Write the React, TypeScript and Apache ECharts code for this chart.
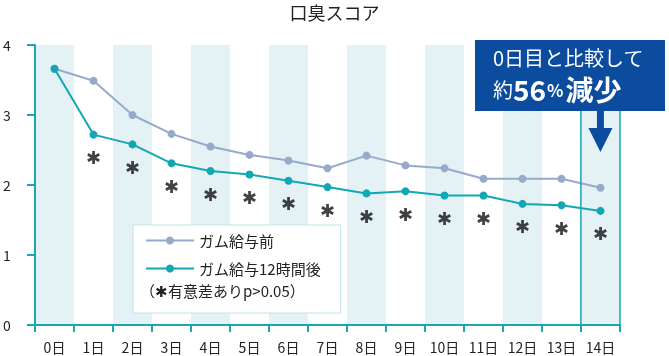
import React, { useEffect, useRef } from "react";
import * as echarts from "echarts";

const days = ["0日", "1日", "2日", "3日", "4日", "5日", "6日", "7日", "8日", "9日", "10日", "11日", "12日", "13日", "14日"];
const beforeValues = [3.66, 3.49, 3.0, 2.73, 2.55, 2.43, 2.35, 2.24, 2.42, 2.28, 2.24, 2.09, 2.09, 2.09, 1.96];
const afterValues = [3.66, 2.72, 2.58, 2.31, 2.2, 2.15, 2.06, 1.97, 1.88, 1.91, 1.85, 1.85, 1.73, 1.71, 1.63];
const significant = [false, true, true, true, true, true, true, true, true, true, true, true, true, true, true];
const yTicks = [0, 1, 2, 3, 4];
const seriesNames = ["ガム給与前", "ガム給与12時間後"];
const titleText = "口臭スコア";
const noteText = "（✱有意差ありp>0.05）";
const calloutLine1 = "0日目と比較して";
const highlightDay = "14日";

const FONT = "'Noto Sans CJK JP', 'Noto Sans', sans-serif";
const GRAY = "#97aacb";
const TEAL = "#11a7b5";
const AXIS = "#1ba6b6";
const NAVY = "#0b4c9f";

const W = 669;
const H = 356;
const G_LEFT = 33;
const G_RIGHT = 49;
const G_TOP = 45;
const G_BOTTOM = 31;

export default function App() {
  const ref = useRef<HTMLDivElement>(null);
  useEffect(() => {
    if (!ref.current) return;
    const chart = echarts.init(ref.current, null, { renderer: "svg" });
    const plotW = W - G_LEFT - G_RIGHT;
    const plotH = H - G_TOP - G_BOTTOM;
    const bandW = plotW / days.length;
    const hiIdx = days.indexOf(highlightDay);
    const hiX = G_LEFT + bandW * hiIdx;
    const arrowX = hiX + bandW / 2;

    const sigData = afterValues.map((v, i) => (significant[i] ? [days[i], v] : [days[i], null]));

    chart.setOption({
      animation: false,
      textStyle: { fontFamily: FONT },
      title: {
        text: titleText,
        left: "center",
        top: 3,
        padding: 0,
        textStyle: { fontSize: 18, fontWeight: "normal", color: "#222", fontFamily: FONT },
      },
      legend: {
        data: seriesNames,
        orient: "vertical",
        left: 133,
        top: 225,
        padding: [8, 20, 37, 12],
        itemWidth: 48,
        itemHeight: 10,
        itemGap: 13,
        backgroundColor: "#ffffff",
        borderColor: "#c3e2e7",
        borderWidth: 1,
        textStyle: { fontSize: 15, color: "#222", fontFamily: FONT },
        z: 20,
      },
      grid: { left: G_LEFT, right: G_RIGHT, top: G_TOP, bottom: G_BOTTOM, containLabel: false },
      xAxis: {
        type: "category",
        data: days,
        boundaryGap: true,
        axisLine: { show: true, lineStyle: { color: AXIS, width: 2 } },
        axisTick: { show: true, length: 7, lineStyle: { color: AXIS, width: 2 } },
        axisLabel: { color: "#222", fontSize: 14, margin: 15, fontFamily: FONT, interval: 0 },
        splitArea: { show: true, areaStyle: { color: ["#e4f2f5", "rgba(255,255,255,0)"] } },
        splitLine: { show: false },
      },
      yAxis: {
        type: "value",
        min: yTicks[0],
        max: yTicks[yTicks.length - 1],
        interval: 1,
        axisLine: { show: true, lineStyle: { color: AXIS, width: 2 } },
        axisTick: { show: true, length: 8, lineStyle: { color: AXIS, width: 2 } },
        axisLabel: { color: "#222", fontSize: 14, align: "left", margin: 32, fontFamily: FONT },
        splitLine: { show: false },
      },
      series: [
        {
          name: seriesNames[0],
          type: "line",
          data: beforeValues,
          symbol: "circle",
          symbolSize: 8,
          lineStyle: { color: GRAY, width: 2 },
          itemStyle: { color: GRAY },
          z: 3,
        },
        {
          name: seriesNames[1],
          type: "line",
          data: afterValues,
          symbol: "circle",
          symbolSize: 8,
          lineStyle: { color: TEAL, width: 2 },
          itemStyle: { color: TEAL },
          z: 4,
        },
        {
          name: "sig",
          type: "scatter",
          data: sigData,
          symbol: "circle",
          symbolSize: 1,
          itemStyle: { color: "rgba(0,0,0,0)" },
          silent: true,
          label: {
            show: true,
            position: "inside",
            offset: [0, 23],
            formatter: "✱",
            fontSize: 18,
            color: "#111",
            fontFamily: "'DejaVu Sans', sans-serif",
          },
          z: 5,
        },
      ],
      graphic: [
        {
          type: "rect",
          shape: { x: hiX, y: G_TOP, width: bandW, height: plotH },
          style: { fill: "none", stroke: AXIS, lineWidth: 1.5 },
          z: 10,
          silent: true,
        },
        {
          type: "text",
          left: 140,
          top: 283,
          style: { text: noteText, fontSize: 15, fill: "#222", fontFamily: FONT },
          z: 30,
        },
        {
          type: "rect",
          shape: { x: 475, y: 40, width: 190, height: 71 },
          style: { fill: NAVY },
          z: 40,
        },
        {
          type: "text",
          x: 493,
          y: 57,
          style: {
            text: calloutLine1,
            fontSize: 20,
            fill: "#fff",
            fontFamily: FONT,
            verticalAlign: "middle",
          },
          z: 41,
        },
        {
          type: "text",
          x: 493,
          y: 89,
          style: {
            text: "{a|約}{b|56}{c|%}{b|減少}",
            fill: "#fff",
            verticalAlign: "middle",
            rich: {
              a: { fontSize: 20, fontFamily: FONT, color: "#fff", lineHeight: 24 },
              b: { fontSize: 28, fontWeight: "bold", fontFamily: FONT, color: "#fff", lineHeight: 24 },
              c: { fontSize: 17, fontWeight: "bold", fontFamily: FONT, color: "#fff", padding: [0, 2, 0, 1], lineHeight: 24 },
            },
          },
          z: 41,
        },
        {
          type: "rect",
          shape: { x: arrowX - 3.5, y: 110, width: 7, height: 20 },
          style: { fill: NAVY },
          z: 40,
        },
        {
          type: "polygon",
          shape: { points: [[arrowX - 12, 128], [arrowX + 12, 128], [arrowX, 152]] },
          style: { fill: NAVY },
          z: 40,
        },
      ],
    });
    return () => chart.dispose();
  }, []);
  return <div ref={ref} style={{ position: "fixed", left: 0, top: 0, width: W, height: H }} />;
}
